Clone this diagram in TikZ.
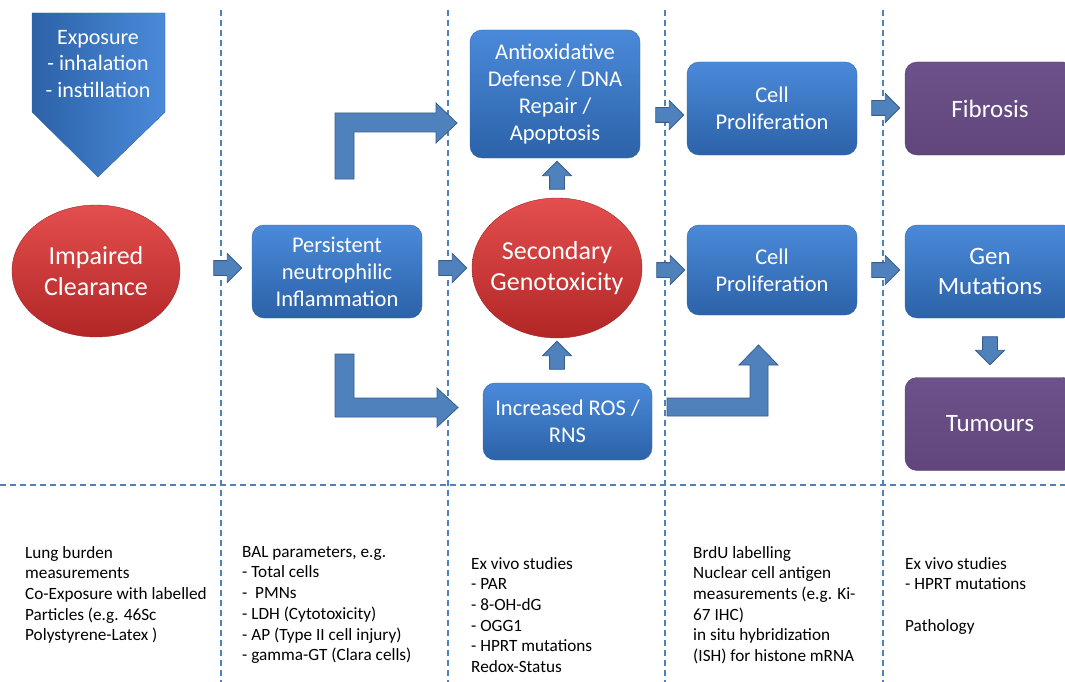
\documentclass[tikz,border=0pt]{standalone}
\usepackage{fontspec}
\setmainfont{Carlito}
\usetikzlibrary{shapes.geometric,shapes.arrows,calc}

\definecolor{boxtop}{RGB}{74,138,218}
\definecolor{boxbot}{RGB}{44,98,168}
\definecolor{boxedge}{RGB}{52,100,160}
\definecolor{purptop}{RGB}{108,82,138}
\definecolor{purpbot}{RGB}{96,70,122}
\definecolor{purpedge}{RGB}{84,62,108}
\definecolor{redtop}{RGB}{228,78,78}
\definecolor{redbot}{RGB}{178,38,38}
\definecolor{rededge}{RGB}{160,40,40}
\definecolor{arrowfill}{RGB}{79,129,189}
\definecolor{arrowedge}{RGB}{56,93,138}
\definecolor{sepblue}{RGB}{79,129,189}

\begin{document}
\begin{tikzpicture}[x=1pt,y=-1pt,
  stepbox/.style={rectangle, rounded corners=12pt, draw=boxedge, top color=boxtop, bottom color=boxbot,
    text=white, align=center, minimum width=170pt, minimum height=93pt, inner sep=2pt,
    font=\fontsize{22.5}{27}\selectfont},
  endbox/.style={stepbox, draw=purpedge, top color=purptop, bottom color=purpbot, font=\fontsize{25}{30}\selectfont},
  hub/.style={ellipse, draw=rededge, top color=redtop, bottom color=redbot, text=white, align=center,
    inner ysep=0pt, inner xsep=-9pt, font=\fontsize{26}{31}\selectfont},
  blockarrow/.style={single arrow, draw=arrowedge, fill=arrowfill, line width=0.8pt, inner sep=7pt,
    minimum height=28pt, single arrow head extend=7pt},
  elbow/.style={draw=arrowedge, fill=arrowfill, line width=0.8pt, line join=miter},
  sep/.style={draw=sepblue, line width=1.5pt, dash pattern=on 6pt off 4pt},
  notes/.style={anchor=north west, align=left, inner sep=0pt, font=\fontsize{17.2}{20.7}\selectfont}]
\useasboundingbox (0,0) rectangle (1065,682);

% separators
\foreach \sx in {221,448,665,883} \draw[sep] (\sx,10) -- (\sx,682);
\draw[sep] (0,485) -- (1065,485);

% exposure
\draw[draw=boxedge, left color=boxbot, right color=boxtop] (32,13) -- (165,13) -- (165,112) -- (98,177) -- (32,112) -- cycle;
\node[text=white, align=center, font=\fontsize{22}{26.5}\selectfont] (exposure) at (98,64) {Exposure\\- inhalation\\- instillation};

% main nodes
\node[hub, minimum width=168pt, minimum height=132pt] (clear) at (96,271) {Impaired\\Clearance};
\node[stepbox] (pers) at (337,271.5) {Persistent\\neutrophilic\\Inflammation};
\node[hub, minimum width=170pt, minimum height=140pt] (secgen) at (557,268) {Secondary\\Genotoxicity};
\node[stepbox, minimum height=128pt] (antiox) at (555,94) {Antioxidative\\Defense / DNA\\Repair /\\Apoptosis};
\node[stepbox, minimum width=169pt, minimum height=77pt] (ros) at (567.5,421.5) {Increased ROS /\\RNS};
\node[stepbox] (cellup) at (772,108.5) {Cell\\Proliferation};
\node[stepbox, minimum height=90pt] (cellmid) at (772,270) {Cell\\Proliferation};
\node[endbox] (fib) at (990,108.5) {Fibrosis};
\node[stepbox, font=\fontsize{25}{30}\selectfont] (genmut) at (990,271.5) {Gen\\Mutations};
\node[endbox] (tum) at (990,424) {Tumours};

% block arrows
\node[blockarrow] (a1) at (224,268) {};
\node[blockarrow] (a2) at (449,268) {};
\node[blockarrow] (a3) at (666,115) {};
\node[blockarrow] (a4) at (667,270) {};
\node[blockarrow] (a5) at (882,108) {};
\node[blockarrow] (a6) at (882,270) {};
\node[blockarrow, shape border rotate=90] (a7) at (557,179) {};
\node[blockarrow, shape border rotate=90] (a8) at (557,359) {};
\node[blockarrow, shape border rotate=270] (a9) at (990,347) {};

% elbow arrows
\draw[elbow] (335,179) -- (335,113) -- (436,113) -- (436,103) -- (457,123) -- (436,143) -- (436,132) -- (354,132) -- (354,179) -- cycle;
\draw[elbow] (335,354) -- (354,354) -- (354,398) -- (437,398) -- (437,388) -- (458,407.5) -- (437,427) -- (437,417) -- (335,417) -- cycle;
\draw[elbow] (667,398) -- (750,398) -- (750,365) -- (739,365) -- (758.5,345) -- (778,365) -- (768,365) -- (768,416) -- (667,416) -- cycle;

% methods
\node[notes] (m1) at (25,546) {Lung burden\\measurements\\Co-Exposure with labelled\\Particles (e.g. 46Sc\\Polystyrene-Latex )};
\node[notes] (m2) at (242,546) {BAL parameters, e.g.\\- Total cells\\-\ \ PMNs\\- LDH (Cytotoxicity)\\- AP (Type II cell injury)\\- gamma-GT (Clara cells)};
\node[notes] (m3) at (471,557) {Ex vivo studies\\- PAR\\- 8-OH-dG\\- OGG1\\- HPRT mutations\\Redox-Status};
\node[notes] (m4) at (693,546) {BrdU labelling\\Nuclear cell antigen\\measurements (e.g. Ki-\\67 IHC)\\in situ hybridization\\(ISH) for histone mRNA};
\node[notes] (m5) at (905,557) {Ex vivo studies\\- HPRT mutations\\[20.7pt]Pathology};
\end{tikzpicture}
\end{document}
